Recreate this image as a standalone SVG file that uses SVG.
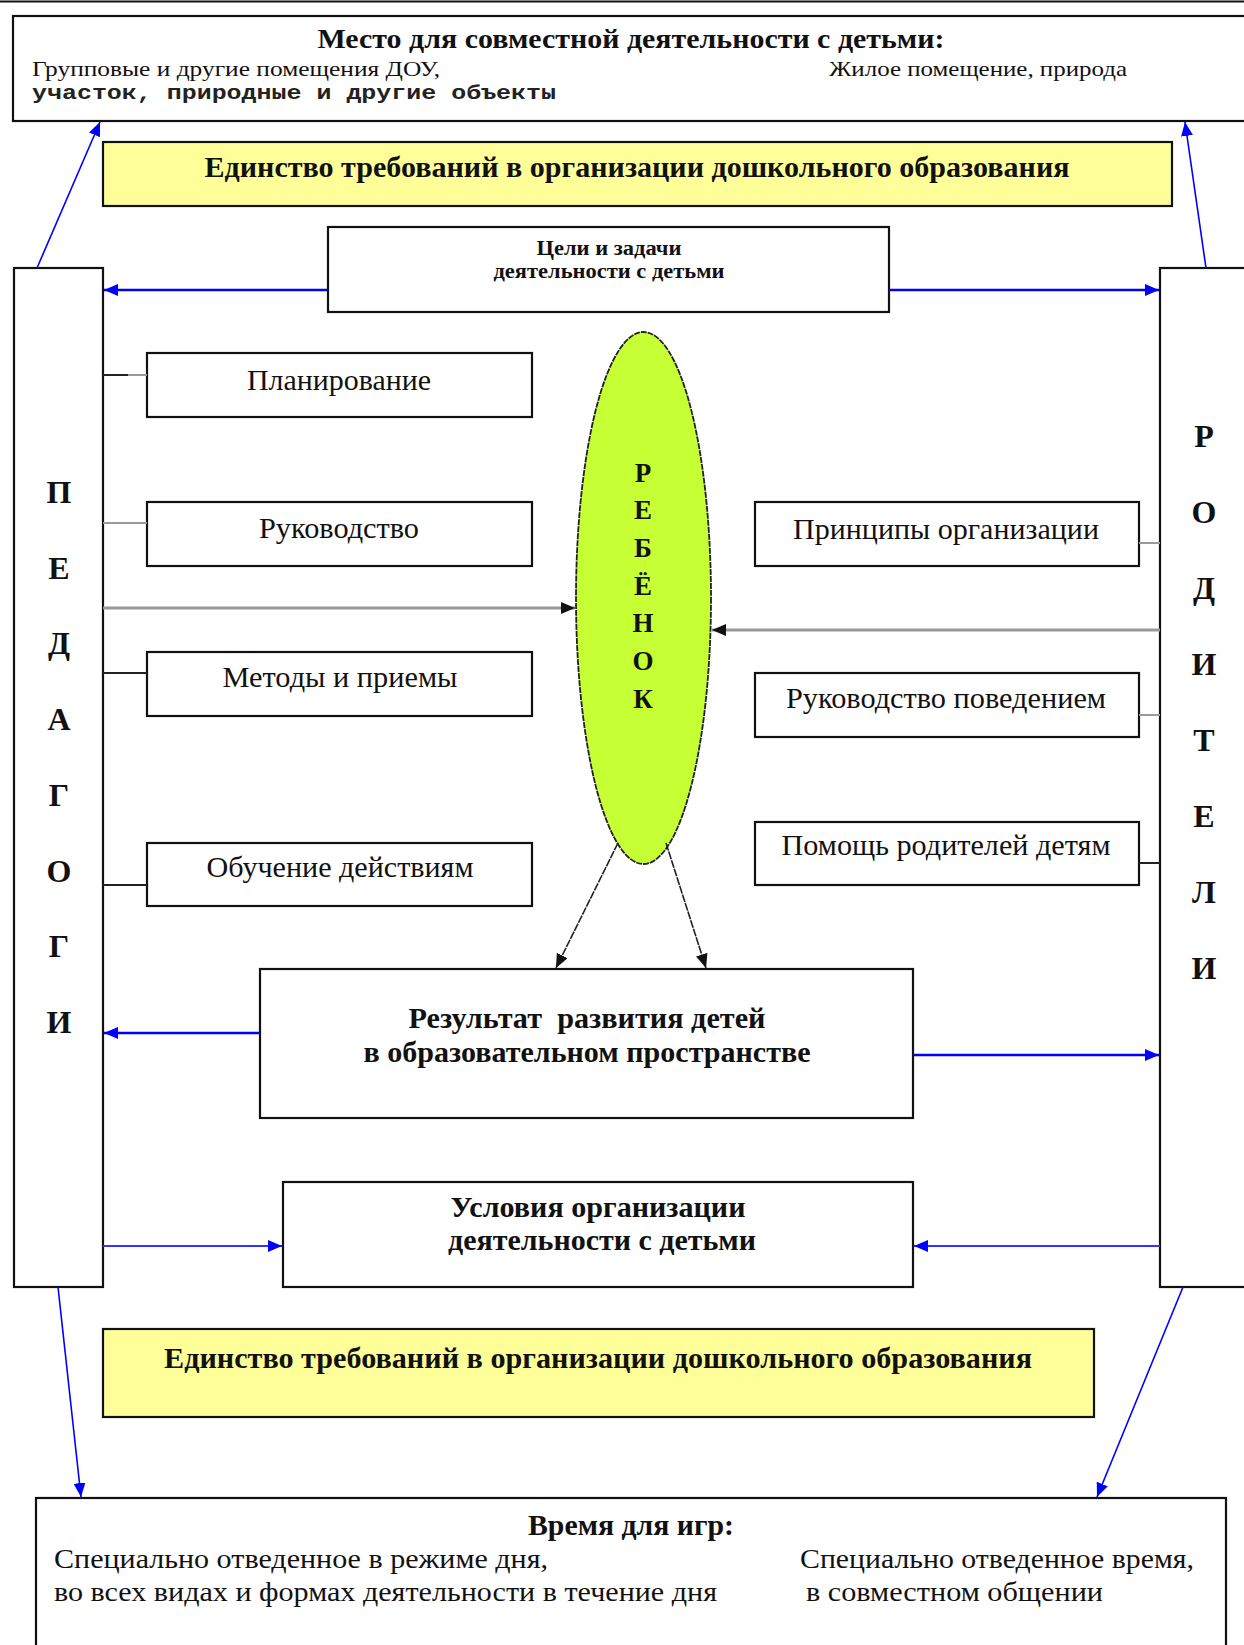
<svg xmlns="http://www.w3.org/2000/svg" width="1244" height="1645" viewBox="0 0 1244 1645">
<style>
.box{fill:#fff;stroke:#111;stroke-width:2.2}
.yel{fill:#ffff99;stroke:#111;stroke-width:2.2}
.t{font-family:"Liberation Serif","Times New Roman",serif;fill:#111}
.b{font-weight:bold}
.blue{stroke:#0000ff;fill:none}
.gray{stroke:#999;stroke-width:3;fill:none}
.blk{stroke:#222;stroke-width:1.6;fill:none}
</style>
<defs>
<marker id="ab" markerUnits="userSpaceOnUse" markerWidth="16" markerHeight="12" refX="14" refY="6" orient="auto">
<path d="M0,0 L14,6 L0,12 Z" fill="#0000ff"/>
</marker>
<marker id="ak" markerUnits="userSpaceOnUse" markerWidth="16" markerHeight="12" refX="14" refY="6" orient="auto">
<path d="M0,0 L14,6 L0,12 Z" fill="#111"/>
</marker>
</defs>
<line x1="0" y1="1.5" x2="1244" y2="1.5" stroke="#111" stroke-width="2"/>

<g id="place">
<rect class="box" x="13" y="16" width="1240" height="105"/>
<text class="t b" x="631" y="48" font-size="28" text-anchor="middle" textLength="627" lengthAdjust="spacingAndGlyphs">Место для совместной деятельности с детьми:</text>
<text class="t" x="32" y="76" font-size="21" textLength="408" lengthAdjust="spacingAndGlyphs">Групповые и другие помещения ДОУ,</text>
<text x="32" y="99" font-size="20" font-family="Liberation Mono,Courier New,monospace" font-weight="bold" fill="#222" textLength="524" lengthAdjust="spacingAndGlyphs">участок, природные и другие объекты</text>
<text class="t" x="829" y="76" font-size="21" textLength="298" lengthAdjust="spacingAndGlyphs">Жилое помещение, природа</text>
</g>

<g id="unity-top">
<rect class="yel" x="103" y="142" width="1069" height="64"/>
<text class="t b" x="637" y="177" font-size="29" text-anchor="middle" textLength="865" lengthAdjust="spacingAndGlyphs">Единство требований в организации дошкольного образования</text>
</g>

<g id="goals">
<rect class="box" x="328" y="227" width="561" height="85"/>
<text class="t b" x="609" y="255" font-size="20" text-anchor="middle" textLength="145" lengthAdjust="spacingAndGlyphs">Цели и задачи</text>
<text class="t b" x="609" y="278" font-size="20" text-anchor="middle" textLength="231" lengthAdjust="spacingAndGlyphs">деятельности с детьми</text>
</g>

<g id="teachers">
<rect class="box" x="14" y="268" width="89" height="1019"/>
<g class="t b" font-size="32" text-anchor="middle">
<text x="59" y="503">П</text>
<text x="59" y="579">Е</text>
<text x="59" y="654">Д</text>
<text x="59" y="730">А</text>
<text x="59" y="806">Г</text>
<text x="59" y="882">О</text>
<text x="59" y="957">Г</text>
<text x="59" y="1033">И</text>
</g>
</g>

<g id="parents">
<rect class="box" x="1160" y="268" width="100" height="1019"/>
<g class="t b" font-size="32" text-anchor="middle">
<text x="1204" y="447">Р</text>
<text x="1204" y="523">О</text>
<text x="1204" y="599">Д</text>
<text x="1204" y="675">И</text>
<text x="1204" y="751">Т</text>
<text x="1204" y="827">Е</text>
<text x="1204" y="903">Л</text>
<text x="1204" y="979">И</text>
</g>
</g>

<g id="planning">
<rect class="box" x="147" y="353" width="385" height="64"/>
<text class="t" x="339" y="390" font-size="29" text-anchor="middle" textLength="184" lengthAdjust="spacingAndGlyphs">Планирование</text>
</g>
<g id="guidance">
<rect class="box" x="147" y="502" width="385" height="64"/>
<text class="t" x="339" y="538" font-size="29" text-anchor="middle" textLength="160" lengthAdjust="spacingAndGlyphs">Руководство</text>
</g>
<g id="methods">
<rect class="box" x="147" y="652" width="385" height="64"/>
<text class="t" x="340" y="687" font-size="29" text-anchor="middle" textLength="235" lengthAdjust="spacingAndGlyphs">Методы и приемы</text>
</g>
<g id="training">
<rect class="box" x="147" y="843" width="385" height="63"/>
<text class="t" x="340" y="877" font-size="29" text-anchor="middle" textLength="267" lengthAdjust="spacingAndGlyphs">Обучение действиям</text>
</g>

<g id="principles">
<rect class="box" x="755" y="502" width="384" height="64"/>
<text class="t" x="946" y="539" font-size="29" text-anchor="middle" textLength="306" lengthAdjust="spacingAndGlyphs">Принципы организации</text>
</g>
<g id="behaviour">
<rect class="box" x="755" y="673" width="384" height="64"/>
<text class="t" x="946" y="708" font-size="29" text-anchor="middle" textLength="320" lengthAdjust="spacingAndGlyphs">Руководство поведением</text>
</g>
<g id="help">
<rect class="box" x="755" y="822" width="384" height="63"/>
<text class="t" x="946" y="855" font-size="29" text-anchor="middle" textLength="329" lengthAdjust="spacingAndGlyphs">Помощь родителей детям</text>
</g>

<g id="child">
<ellipse cx="643.5" cy="598" rx="67.5" ry="266" fill="#c6ff33" stroke="#222" stroke-width="1.8" stroke-dasharray="6 1"/>
<g class="t b" font-size="27" text-anchor="middle">
<text x="643" y="482">Р</text>
<text x="643" y="519">Е</text>
<text x="643" y="557">Б</text>
<text x="643" y="595">Ё</text>
<text x="643" y="632">Н</text>
<text x="643" y="670">О</text>
<text x="643" y="708">К</text>
</g>
</g>

<g id="result">
<rect class="box" x="260" y="969" width="653" height="149"/>
<text class="t b" x="587" y="1028" font-size="29" text-anchor="middle" style="white-space:pre" textLength="357" lengthAdjust="spacingAndGlyphs">Результат  развития детей</text>
<text class="t b" x="587" y="1062" font-size="29" text-anchor="middle" textLength="447" lengthAdjust="spacingAndGlyphs">в образовательном пространстве</text>
</g>

<g id="conditions">
<rect class="box" x="283" y="1182" width="630" height="105"/>
<text class="t b" x="598" y="1217" font-size="29" text-anchor="middle" textLength="295" lengthAdjust="spacingAndGlyphs">Условия организации</text>
<text class="t b" x="602" y="1250" font-size="29" text-anchor="middle" textLength="308" lengthAdjust="spacingAndGlyphs">деятельности с детьми</text>
</g>

<g id="unity-bottom">
<rect class="yel" x="103" y="1329" width="991" height="88"/>
<text class="t b" x="598" y="1368" font-size="29" text-anchor="middle" textLength="868" lengthAdjust="spacingAndGlyphs">Единство требований в организации дошкольного образования</text>
</g>

<g id="time">
<rect class="box" x="36" y="1498" width="1190" height="170"/>
<text class="t b" x="631" y="1535" font-size="30" text-anchor="middle" textLength="206" lengthAdjust="spacingAndGlyphs">Время для игр:</text>
<text class="t" x="54" y="1568" font-size="27" textLength="494" lengthAdjust="spacingAndGlyphs">Специально отведенное в режиме дня,</text>
<text class="t" x="54" y="1601" font-size="27" textLength="663" lengthAdjust="spacingAndGlyphs">во всех видах и формах деятельности в течение дня</text>
<text class="t" x="800" y="1568" font-size="27" textLength="394" lengthAdjust="spacingAndGlyphs">Специально отведенное время,</text>
<text class="t" x="806" y="1601" font-size="27" textLength="297" lengthAdjust="spacingAndGlyphs">в совместном общении</text>
</g>

<g id="connectors">
<line class="blue" x1="37" y1="268" x2="100" y2="122" stroke-width="1.6" marker-end="url(#ab)"/>
<line class="blue" x1="1206" y1="268" x2="1185" y2="122" stroke-width="1.6" marker-end="url(#ab)"/>
<line class="blue" x1="328" y1="290" x2="104" y2="290" stroke-width="2.5" marker-end="url(#ab)"/>
<line class="blue" x1="889" y1="290" x2="1159" y2="290" stroke-width="2.5" marker-end="url(#ab)"/>
<line x1="103" y1="375" x2="128" y2="375" stroke="#222" stroke-width="2"/>
<line x1="128" y1="375" x2="147" y2="375" stroke="#999" stroke-width="2"/>
<line x1="103" y1="523" x2="147" y2="523" stroke="#999" stroke-width="2"/>
<line x1="103" y1="673" x2="147" y2="673" stroke="#222" stroke-width="2"/>
<line x1="103" y1="885" x2="147" y2="885" stroke="#222" stroke-width="2"/>
<line x1="1139" y1="543" x2="1160" y2="543" stroke="#999" stroke-width="2"/>
<line x1="1139" y1="715" x2="1160" y2="715" stroke="#999" stroke-width="2"/>
<line x1="1139" y1="863" x2="1160" y2="863" stroke="#222" stroke-width="2"/>
<line class="gray" x1="103" y1="608" x2="575" y2="608" marker-end="url(#ak)"/>
<line class="gray" x1="1160" y1="630" x2="712" y2="630" marker-end="url(#ak)"/>
<line class="blk" x1="618" y1="843" x2="556" y2="968" stroke-dasharray="8 1" marker-end="url(#ak)"/>
<line class="blk" x1="666" y1="843" x2="706" y2="968" stroke-dasharray="8 1" marker-end="url(#ak)"/>
<line class="blue" x1="260" y1="1033" x2="104" y2="1033" stroke-width="2.5" marker-end="url(#ab)"/>
<line class="blue" x1="913" y1="1055" x2="1159" y2="1055" stroke-width="2.5" marker-end="url(#ab)"/>
<line x1="103" y1="1246" x2="282" y2="1246" stroke="#3333ff" stroke-width="2.2" marker-end="url(#ab)"/>
<line x1="1160" y1="1246" x2="914" y2="1246" stroke="#3333ff" stroke-width="2.2" marker-end="url(#ab)"/>
<line class="blue" x1="58" y1="1287" x2="81" y2="1497" stroke-width="1.6" marker-end="url(#ab)"/>
<line class="blue" x1="1183" y1="1287" x2="1097" y2="1497" stroke-width="1.6" marker-end="url(#ab)"/>
</g>
</svg>
